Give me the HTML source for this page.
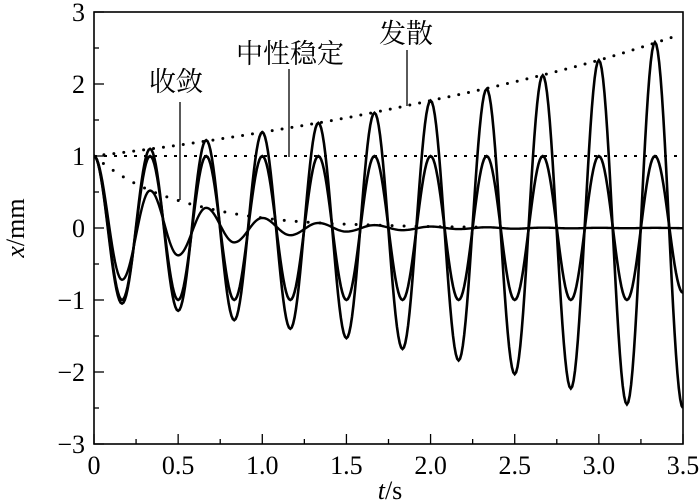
<!DOCTYPE html>
<html><head><meta charset="utf-8"><style>
html,body{margin:0;padding:0;background:#fff;}
svg{display:block;}
text{font-family:"Liberation Serif","Noto Serif CJK SC",serif;fill:#000;}
</style></head><body>
<svg id="chart" width="700" height="502" viewBox="0 0 700 502">
<defs><clipPath id="plotclip"><rect x="94" y="12" width="589" height="432"/></clipPath></defs>
<g id="axes"></g>
<g id="series" clip-path="url(#plotclip)"></g>
<g id="labels"></g>
</svg>
<script>
// half-period extremum times (s)
const extremaTimes = [0,0.1667,0.3333,0.5,0.6667,0.8333,1.0,1.1667,1.3333,1.5,1.6667,1.8333,2.0,2.1667,2.3333,2.5,2.6667,2.8333,3.0,3.1667,3.3333,3.5];
const divergentExtrema = [1,-1.05,1.1,-1.15,1.22,-1.28,1.33,-1.4,1.46,-1.53,1.6,-1.68,1.77,-1.84,1.93,-2.03,2.12,-2.23,2.33,-2.45,2.58,-2.5];
const neutralExtrema = [1,-1,1,-1,1,-1,1,-1,1,-1,1,-1,1,-1,1,-1,1,-1,1,-1,1,-0.9];
const convergentExtrema = [1,-0.72,0.52,-0.38,0.28,-0.2,0.14,-0.1,0.07,-0.05,0.04,-0.03,0.02,-0.015,0.01,-0.01,0.005,-0.005,0.003,-0.003,0.002,-0.002];
const divergentEnvelopeT = [0,0.5,1.0,1.5,2.0,2.5,3.0,3.45];
const divergentEnvelopeV = [1,1.15,1.33,1.53,1.77,2.03,2.33,2.66];
const neutralEnvelopeT = [0,3.5];
const neutralEnvelopeV = [1,1];
const convergentEnvelopeT = [0,0.3333,0.6667,1.0,1.3333,1.6667,2.0,2.3333];
const convergentEnvelopeV = [1,0.52,0.28,0.14,0.07,0.04,0.02,0.01];
const xTicks = [0,0.5,1.0,1.5,2.0,2.5,3.0,3.5];
const xTickLabels = ["0","0.5","1.0","1.5","2.0","2.5","3.0","3.5"];
const yTicks = [-3,-2,-1,0,1,2,3];
const yTickLabels = ["\u22123","\u22122","\u22121","0","1","2","3"];

const X0=94,X1=683,Y0=444,Y1=12;
const sx=t=>X0+(t-0)/(3.5)*(X1-X0);
const sy=v=>Y0-(v+3)/6*(Y0-Y1);
const NS='http://www.w3.org/2000/svg';
function mk(tag,parent,attrs){const e=document.createElementNS(NS,tag);for(const k in attrs)e.setAttribute(k,attrs[k]);parent.appendChild(e);return e;}
const axes=document.getElementById('axes'),series=document.getElementById('series'),labels=document.getElementById('labels');

const frame=mk('rect',axes,{x:X0,y:Y1,width:X1-X0,height:Y0-Y1,fill:'none',stroke:'#000','stroke-width':1.6});


for(let i=0;i<xTicks.length;i++){
  const x=sx(xTicks[i]);
  const tk=mk('line',axes,{x1:x,x2:x,y1:Y0,y2:Y0-10,stroke:'#000','stroke-width':1.3});
  
  
  if(i<xTicks.length-1){const xm=sx(xTicks[i]+0.25);
    const mt=mk('line',axes,{x1:xm,x2:xm,y1:Y0,y2:Y0-5,stroke:'#000','stroke-width':1.3});
    
    }
  const tl=mk('text',labels,{x:x,y:474,'font-size':26,'text-anchor':'middle'});
  tl.textContent=xTickLabels[i];
  
  
}
for(let i=0;i<yTicks.length;i++){
  const y=sy(yTicks[i]);
  const tk=mk('line',axes,{x1:X0,x2:X0+10,y1:y,y2:y,stroke:'#000','stroke-width':1.3});
  
  
  if(i<yTicks.length-1){const ym=sy(yTicks[i]+0.5);
    const mt=mk('line',axes,{x1:X0,x2:X0+5,y1:ym,y2:ym,stroke:'#000','stroke-width':1.3});
    
    }
  const tl=mk('text',labels,{x:85,y:y+9,'font-size':26,'text-anchor':'end'});
  tl.textContent=yTickLabels[i];
  
  
}
function oscPath(ts,vs){
  let d='M'+sx(ts[0]).toFixed(2)+','+sy(vs[0]).toFixed(2);
  for(let k=0;k<ts.length-1;k++){
    const a=vs[k],b=vs[k+1],m=(a+b)/2,h=(a-b)/2;
    for(let j=1;j<=20;j++){const u=j/20;const t=ts[k]+(ts[k+1]-ts[k])*u;
      d+='L'+sx(t).toFixed(2)+','+sy(m+h*Math.cos(Math.PI*u)).toFixed(2);}
  }
  return d;
}
function envPath(ts,vs){
  let d='M'+sx(ts[0]).toFixed(2)+','+sy(vs[0]).toFixed(2);
  for(let k=0;k<ts.length-1;k++){
    const a=vs[k],b=vs[k+1];
    for(let j=1;j<=10;j++){const u=j/10;const t=ts[k]+(ts[k+1]-ts[k])*u;
      const v=(a>0&&b>0)?a*Math.pow(b/a,u):a+(b-a)*u;
      d+='L'+sx(t).toFixed(2)+','+sy(v).toFixed(2);}
  }
  return d;
}
const e1=mk('path',series,{d:envPath(divergentEnvelopeT,divergentEnvelopeV),fill:'none',stroke:'#000','stroke-width':3,'stroke-linecap':'round','stroke-dasharray':'0 10'});


const e2=mk('path',series,{d:envPath(neutralEnvelopeT,neutralEnvelopeV),fill:'none',stroke:'#000','stroke-width':2,'stroke-dasharray':'3 7'});


const e3=mk('path',series,{d:envPath(convergentEnvelopeT,convergentEnvelopeV),fill:'none',stroke:'#000','stroke-width':3,'stroke-linecap':'round','stroke-dasharray':'0 12'});


const s1=mk('path',series,{d:oscPath(extremaTimes,divergentExtrema),fill:'none',stroke:'#000','stroke-width':2.6});


const s2=mk('path',series,{d:oscPath(extremaTimes,neutralExtrema),fill:'none',stroke:'#000','stroke-width':2.6});


const s3=mk('path',series,{d:oscPath(extremaTimes,convergentExtrema),fill:'none',stroke:'#000','stroke-width':2.4});



function ann(txt,x,y,lx,ly1,ly2,name){
  const t=mk('text',labels,{x:x,y:y,'font-size':27,'text-anchor':'middle'});
  t.textContent=txt;
  
  
  const l=mk('line',labels,{x1:lx,x2:lx,y1:ly1,y2:ly2,stroke:'#000','stroke-width':1.3});
  
  
}
ann('收敛',176,91,180,102,200,'convergent');
ann('中性稳定',290,63,289,69,157,'neutral');
ann('发散',406,43,407,50,106,'divergent');

const xt=mk('text',labels,{x:390,y:499,'font-size':26,'text-anchor':'middle'});
xt.innerHTML='<tspan font-style="italic">t</tspan>/s';


const yt=mk('text',labels,{x:0,y:0,'font-size':26,'text-anchor':'middle',transform:'translate(24,228) rotate(-90)'});
yt.innerHTML='<tspan font-style="italic">x</tspan>/mm';


</script>
</body></html>
